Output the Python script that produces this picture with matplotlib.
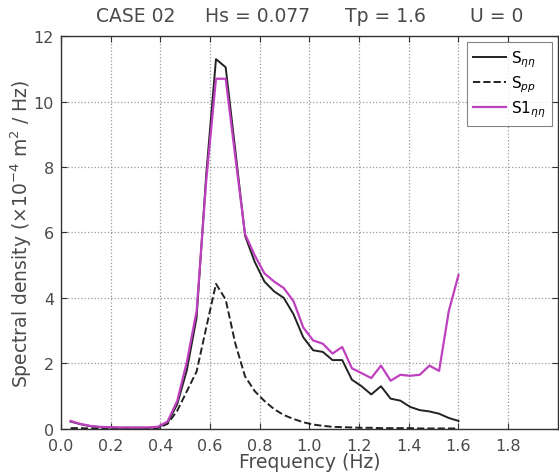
import matplotlib as mpl
mpl.use("Agg")
import matplotlib.pyplot as plt

plt.rcParams["font.family"] = ["DejaVu Sans"]
plt.rcParams["mathtext.fontset"] = "dejavusans"

# Data (Hz, x1e-4 m^2/Hz)
freq = [0.039, 0.078, 0.117, 0.156, 0.195, 0.234, 0.273, 0.312, 0.351, 0.390,
        0.429, 0.468, 0.507, 0.546, 0.585, 0.624, 0.663, 0.702, 0.741, 0.780,
        0.819, 0.858, 0.897, 0.936, 0.975, 1.015, 1.054, 1.093, 1.132, 1.171,
        1.210, 1.249, 1.288, 1.327, 1.366, 1.405, 1.444, 1.483, 1.522, 1.561,
        1.600]
s_eta = [0.22, 0.14, 0.08, 0.05, 0.04, 0.03, 0.03, 0.03, 0.03, 0.05,
         0.18, 0.75, 1.80, 3.40, 7.80, 11.30, 11.05, 8.50, 5.90, 5.10,
         4.50, 4.20, 4.00, 3.50, 2.80, 2.40, 2.35, 2.10, 2.10, 1.50,
         1.30, 1.05, 1.30, 0.92, 0.86, 0.67, 0.57, 0.53, 0.46, 0.33,
         0.24]
s_pp = [0.02, 0.02, 0.01, 0.01, 0.01, 0.01, 0.01, 0.01, 0.01, 0.02,
        0.15, 0.55, 1.15, 1.75, 3.10, 4.43, 3.95, 2.60, 1.60, 1.15,
        0.85, 0.60, 0.42, 0.30, 0.20, 0.13, 0.09, 0.06, 0.05, 0.04,
        0.03, 0.03, 0.02, 0.02, 0.02, 0.02, 0.01, 0.01, 0.01, 0.01,
        0.01]
s1_eta = [0.24, 0.15, 0.09, 0.06, 0.05, 0.04, 0.04, 0.04, 0.04, 0.06,
          0.22, 0.85, 2.05, 3.60, 7.60, 10.70, 10.70, 8.30, 5.95, 5.30,
          4.75, 4.50, 4.30, 3.90, 3.10, 2.70, 2.60, 2.30, 2.50, 1.85,
          1.70, 1.55, 1.93, 1.47, 1.65, 1.62, 1.65, 1.93, 1.77, 3.60,
          4.70]

title_parts = ["CASE 02", "Hs = 0.077", "Tp = 1.6", "U = 0"]
title_x = [96, 205, 345, 470]  # left edge of each part, px

W, H = 559, 477
fig = plt.figure(figsize=(W / 100, H / 100), dpi=100)
ax = fig.add_axes([0.109, 0.099, 0.889, 0.823])

text_color = "#4a4a4a"
ax.plot(freq, s_eta, color="#222222", lw=1.4, label=r"S$_{\eta\eta}$")
ax.plot(freq, s_pp, color="#222222", lw=1.4, ls="--", label=r"S$_{pp}$")
ax.plot(freq, s1_eta, color="#bf40bf", lw=1.6, label=r"S1$_{\eta\eta}$")

ax.set_xlim(0, 2.0)
ax.set_ylim(0, 12)
ax.set_xticks([0.0, 0.2, 0.4, 0.6, 0.8, 1.0, 1.2, 1.4, 1.6, 1.8])
ax.set_xticklabels(["0.0", "0.2", "0.4", "0.6", "0.8", "1.0", "1.2", "1.4", "1.6", "1.8"])
ax.set_yticks([0, 2, 4, 6, 8, 10, 12])
ax.tick_params(direction="in", top=True, right=True, labelsize=11.5,
               labelcolor=text_color, length=4, color="#333333")
ax.tick_params(axis="x", pad=7)
ax.tick_params(axis="y", pad=5)
ax.grid(True, ls=":", color="#999999", lw=0.9)
for sp in ax.spines.values():
    sp.set_color("#333333")
    sp.set_linewidth(1.0)

ax.set_xlabel("Frequency (Hz)", fontsize=13.5, color=text_color, labelpad=-1)
ax.set_ylabel(r"Spectral density ($\times$10$^{-4}$ m$^2$ / Hz)", fontsize=13.5,
              color=text_color, labelpad=0)

for part, px in zip(title_parts, title_x):
    fig.text(px / W, 1 - 17 / H, part, fontsize=13.5, color=text_color,
             ha="left", va="center")

leg = ax.legend(loc="upper right", fontsize=11, frameon=True, fancybox=False,
                edgecolor="#666666", handlelength=2.2, borderaxespad=0.4,
                labelspacing=0.3, handletextpad=0.3)
leg.get_frame().set_linewidth(0.8)

fig.savefig("out.png", dpi=100)
